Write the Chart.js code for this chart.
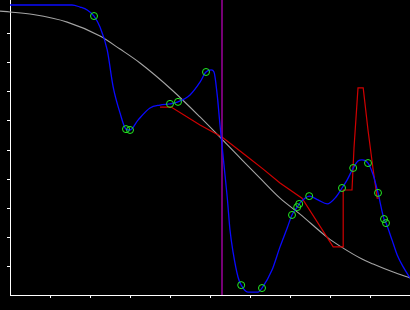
<!DOCTYPE html>
<html>
<head>
<meta charset="utf-8">
<script src="https://cdn.jsdelivr.net/npm/chart.js@4.4.1/dist/chart.umd.min.js"></script>
<style>
  html, body { margin: 0; padding: 0; background: #000; }
  canvas { display: block; background: #000; }
</style>
</head>
<body>
<canvas id="chart" width="410" height="310"></canvas>
<script>
const xTickValues = [1, 2, 3, 4, 5, 6, 7, 8, 9];
const yTickValues = [1, 2, 3, 4, 5, 6, 7, 8, 9];

const sampleX = [2.10, 2.90, 3.00, 4.00, 4.20, 4.90, 5.78, 6.30, 7.05, 7.18, 7.23, 7.48, 8.30, 8.58, 8.95, 9.20, 9.35, 9.40];
const sampleY = [9.62, 5.72, 5.69, 6.59, 6.66, 7.69, 0.34, 0.24, 2.76, 3.03, 3.14, 3.41, 3.69, 4.38, 4.55, 3.52, 2.62, 2.48];

const splineX = [0, 0.75, 1.55, 1.75, 1.93, 2.10, 2.25, 2.43, 2.58, 2.75, 2.90, 3.00, 3.20, 3.50, 3.75, 4.00, 4.20, 4.50, 4.75, 4.90, 5.03, 5.10, 5.18, 5.25, 5.30, 5.35, 5.43, 5.50, 5.58, 5.70, 5.78, 5.95, 6.20, 6.30, 6.55, 6.75, 6.93, 7.05, 7.18, 7.23, 7.35, 7.48, 7.70, 7.93, 8.15, 8.30, 8.43, 8.58, 8.70, 8.80, 8.95, 9.08, 9.20, 9.35, 9.40, 9.55, 9.68, 9.83, 10.00];
const splineY = [10.00, 10.00, 10.00, 9.93, 9.83, 9.62, 9.24, 8.45, 7.17, 6.28, 5.72, 5.69, 6.03, 6.45, 6.55, 6.59, 6.66, 6.90, 7.34, 7.69, 7.76, 7.69, 6.90, 5.86, 5.17, 4.48, 3.38, 2.24, 1.45, 0.62, 0.34, 0.10, 0.10, 0.24, 0.86, 1.66, 2.31, 2.76, 3.03, 3.14, 3.31, 3.41, 3.28, 3.14, 3.38, 3.69, 3.97, 4.38, 4.62, 4.66, 4.55, 4.14, 3.52, 2.62, 2.48, 1.90, 1.38, 0.97, 0.59];

const linearX = [3.75, 4.03, 4.75, 5.30, 5.88, 6.33, 6.75, 7.30, 8.08, 8.33, 8.33, 8.55, 8.60, 8.70, 8.83, 8.95, 9.08, 9.18, 9.25];
const linearY = [6.48, 6.48, 5.86, 5.45, 4.83, 4.34, 3.86, 3.34, 1.66, 1.66, 3.62, 3.62, 5.07, 7.14, 7.14, 5.69, 4.31, 3.34, 3.34];

const fitX = [-0.25, 0, 0.58, 1.43, 2.25, 2.75, 3.25, 4.05, 4.75, 5.68, 6.25, 6.75, 7.25, 7.95, 8.28, 8.80, 9.08, 9.58, 10.00];
const fitY = [9.79, 9.76, 9.67, 9.41, 8.93, 8.48, 8.00, 7.07, 6.14, 4.83, 4.03, 3.34, 2.79, 1.97, 1.66, 1.24, 1.07, 0.79, 0.59];

const markerX = 5.3;
const yTop = 295 / 29;

const pts = (xs, ys) => xs.map((x, i) => ({ x: x, y: ys[i] }));

const axis = (ticks, max) => ({
  type: 'linear',
  min: 0,
  max: max,
  afterBuildTicks: (scale) => {
    scale.ticks = ticks.map(v => ({ value: v }));
  },
  ticks: { display: false },
  grid: {
    display: true,
    drawOnChartArea: false,
    drawTicks: true,
    tickLength: 3,
    color: '#ffffff',
    lineWidth: 1
  },
  border: { display: true, color: '#ffffff', width: 1 }
});

new Chart(document.getElementById('chart'), {
  type: 'scatter',
  data: {
    datasets: [
      {
        label: 'samples',
        data: pts(sampleX, sampleY),
        showLine: false,
        pointStyle: 'circle',
        pointRadius: 3.5,
        pointBorderWidth: 1,
        pointBorderColor: '#22ee22',
        pointBackgroundColor: 'rgba(0,0,0,0)',
        order: 0
      },
      {
        label: 'spline',
        data: pts(splineX, splineY),
        showLine: true,
        borderColor: '#0a0aff',
        borderWidth: 1.3,
        pointRadius: 0,
        cubicInterpolationMode: 'monotone',
        order: 1
      },
      {
        label: 'marker',
        data: [{ x: markerX, y: 0 }, { x: markerX, y: yTop }],
        showLine: true,
        borderColor: '#9c009c',
        borderWidth: 1.5,
        pointRadius: 0,
        order: 2
      },
      {
        label: 'linear',
        data: pts(linearX, linearY),
        showLine: true,
        borderColor: '#d00000',
        borderWidth: 1.2,
        pointRadius: 0,
        tension: 0,
        order: 3
      },
      {
        label: 'fit',
        data: pts(fitX, fitY),
        showLine: true,
        borderColor: '#a4a4a4',
        borderWidth: 1.1,
        pointRadius: 0,
        cubicInterpolationMode: 'monotone',
        clip: false,
        order: 4
      }
    ]
  },
  options: {
    responsive: false,
    animation: false,
    devicePixelRatio: 1,
    layout: { autoPadding: false, padding: { left: 7, right: 0, top: 0, bottom: 12 } },
    plugins: {
      legend: { display: false },
      tooltip: { enabled: false }
    },
    scales: {
      x: axis(xTickValues, 10),
      y: axis(yTickValues, yTop)
    }
  }
});
</script>
</body>
</html>
